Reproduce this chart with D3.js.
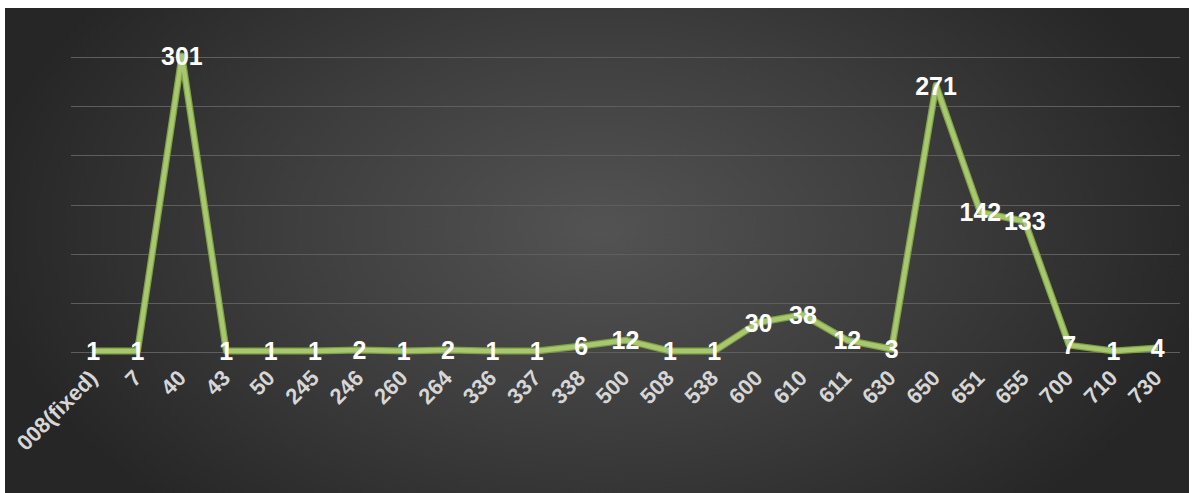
<!DOCTYPE html>
<html>
<head>
<meta charset="utf-8">
<script src="https://cdn.jsdelivr.net/npm/d3@7"></script>
<style>
  html, body { margin: 0; padding: 0; background: #ffffff; }
  svg { display: block; }
</style>
</head>
<body>
<svg id="chart" width="1192" height="493"></svg>
<script>
// Category labels along the x axis
const categories = ["008(fixed)", "7", "40", "43", "50", "245", "246", "260", "264", "336",
  "337", "338", "500", "508", "538", "600", "610", "611", "630", "650", "651", "655",
  "700", "710", "730"];
// Count per category
const counts = [1, 1, 301, 1, 1, 1, 2, 1, 2, 1, 1, 6, 12, 1, 1, 30, 38, 12, 3, 271, 142, 133, 7, 1, 4];
// Value axis gridline positions
const yTicks = [0, 50, 100, 150, 200, 250, 300];

const svg = d3.select("#chart");
const panel = { x: 5, y: 8, w: 1184, h: 485 };
const plot = { left: 71, right: 1180, top: 57, bottom: 352 };

// Dark radial backdrop
const defs = svg.append("defs");
const grad = defs.append("radialGradient")
  .attr("id", "bg")
  .attr("gradientUnits", "userSpaceOnUse")
  .attr("cx", 600).attr("cy", 230)
  .attr("r", 620)
  .attr("gradientTransform", "translate(600,230) scale(1,0.62) translate(-600,-230)");
grad.append("stop").attr("offset", "0%").attr("stop-color", "#535353");
grad.append("stop").attr("offset", "50%").attr("stop-color", "#3e3e3e");
grad.append("stop").attr("offset", "100%").attr("stop-color", "#262626");

svg.append("rect")
  .attr("x", panel.x).attr("y", panel.y)
  .attr("width", panel.w).attr("height", panel.h)
  .attr("fill", "url(#bg)");

const x = d3.scaleBand()
  .domain(categories)
  .range([plot.left, plot.right])
  .padding(0);
const cx = d => x(d) + x.bandwidth() / 2;

const y = d3.scaleLinear()
  .domain([0, 300])
  .range([plot.bottom, plot.top]);

// Horizontal gridlines
svg.append("g")
  .selectAll("line")
  .data(yTicks)
  .join("line")
  .attr("x1", plot.left).attr("x2", plot.right)
  .attr("y1", d => Math.round(y(d)) + 0.5)
  .attr("y2", d => Math.round(y(d)) + 0.5)
  .attr("stroke", "#5e5e5e")
  .attr("stroke-width", 1.2);

// Category axis labels, rotated
const xAxis = d3.axisBottom(x).tickSize(0).tickPadding(0);
const gx = svg.append("g")
  .attr("transform", `translate(0,${plot.bottom})`)
  .call(xAxis);
gx.select(".domain").remove();
gx.selectAll(".tick text")
  .attr("fill", "#d6d6d6")
  .attr("font-family", "'Liberation Sans', Arial, sans-serif")
  .attr("font-weight", "bold")
  .attr("font-size", 22)
  .attr("text-anchor", "end")
  .attr("dy", "0.35em")
  .attr("transform", "translate(0,22) rotate(-45)");

// Series line
const line = d3.line()
  .x((d, i) => cx(categories[i]))
  .y(d => y(d));

svg.append("path")
  .datum(counts)
  .attr("fill", "none")
  .attr("stroke", "#7f9f45")
  .attr("stroke-width", 7)
  .attr("stroke-linejoin", "round")
  .attr("d", line);
svg.append("path")
  .datum(counts)
  .attr("fill", "none")
  .attr("stroke", "#a8c870")
  .attr("stroke-width", 4.5)
  .attr("stroke-linejoin", "round")
  .attr("d", line);

// Value labels centred on each point
svg.append("g")
  .selectAll("text")
  .data(counts)
  .join("text")
  .attr("x", (d, i) => cx(categories[i]))
  .attr("y", d => y(d))
  .attr("dy", "0.36em")
  .attr("text-anchor", "middle")
  .attr("fill", "#ffffff")
  .attr("font-family", "'Liberation Sans Narrow', 'Liberation Sans', Arial, sans-serif")
  .attr("font-weight", "bold")
  .attr("font-size", 25)
  .text(d => d);
</script>
</body>
</html>
